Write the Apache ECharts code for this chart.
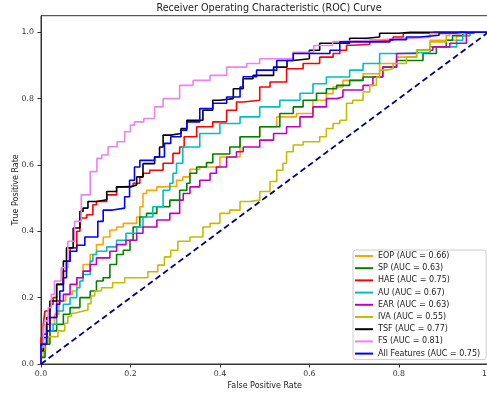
<!DOCTYPE html>
<html><head><meta charset="utf-8">
<script src="https://cdn.jsdelivr.net/npm/echarts@6/dist/echarts.min.js"></script>
<style>html,body{margin:0;padding:0;background:#fff}#c{width:487px;height:393px}</style>
</head><body><div id="c"></div>
<script>
const titleText = 'Receiver Operating Characteristic (ROC) Curve';
const seriesNames = ['EOP (AUC = 0.66)','SP (AUC = 0.63)','HAE (AUC = 0.75)','AU (AUC = 0.67)','EAR (AUC = 0.63)','IVA (AUC = 0.55)','TSF (AUC = 0.77)','FS (AUC = 0.81)','All Features (AUC = 0.75)'];
const seriesColors = ['#FFA500','#008000','#FF0000','#00BFBF','#BF00BF','#BFBF00','#000000','#EE82EE','#0000FF'];
const xTicks = [0,0.2,0.4,0.6,0.8,1.0];
const yTicks = [0,0.2,0.4,0.6,0.8,1.0];
const chancePts = [[0,0],[1,1]];

const eopPts = [[0,0],[0.005,0.02],[0.01,0.04],[0.02,0.08],[0.03,0.12],[0.04,0.15],[0.055,0.19],[0.07,0.21],[0.08,0.22],[0.094,0.26],[0.11,0.30],[0.124,0.33],[0.139,0.36],[0.154,0.383],[0.169,0.404],[0.184,0.413],[0.214,0.424],[0.221,0.443],[0.228,0.474],[0.236,0.514],[0.259,0.524],[0.273,0.534],[0.303,0.536],[0.317,0.554],[0.333,0.564],[0.355,0.587],[0.40,0.594],[0.445,0.624],[0.489,0.685],[0.527,0.715],[0.571,0.745],[0.608,0.755],[0.638,0.795],[0.653,0.815],[0.675,0.835],[0.72,0.855],[0.757,0.875],[0.795,0.906],[0.84,0.925],[0.87,0.946],[0.929,0.976],[0.959,0.99],[0.975,1],[1,1]];
const spPts = [[0,0],[0.009,0.02],[0.02,0.06],[0.035,0.10],[0.05,0.12],[0.065,0.15],[0.087,0.17],[0.11,0.20],[0.124,0.22],[0.139,0.25],[0.154,0.26],[0.169,0.30],[0.184,0.33],[0.199,0.343],[0.206,0.373],[0.221,0.413],[0.236,0.443],[0.259,0.454],[0.288,0.474],[0.31,0.494],[0.326,0.524],[0.333,0.545],[0.348,0.575],[0.37,0.594],[0.384,0.607],[0.422,0.633],[0.445,0.654],[0.489,0.685],[0.534,0.715],[0.564,0.755],[0.586,0.775],[0.616,0.795],[0.638,0.816],[0.661,0.83],[0.69,0.84],[0.72,0.855],[0.764,0.865],[0.795,0.895],[0.817,0.915],[0.854,0.915],[0.884,0.936],[0.906,0.956],[0.92,0.976],[0.943,0.99],[0.965,0.997],[0.97,1],[1,1]];
const haePts = [[0,0],[0.005,0.08],[0.009,0.12],[0.02,0.16],[0.027,0.18],[0.035,0.20],[0.05,0.24],[0.057,0.28],[0.065,0.31],[0.08,0.35],[0.087,0.40],[0.102,0.44],[0.116,0.45],[0.124,0.48],[0.147,0.49],[0.169,0.51],[0.184,0.534],[0.206,0.536],[0.221,0.545],[0.228,0.564],[0.243,0.575],[0.273,0.584],[0.295,0.605],[0.31,0.635],[0.32,0.654],[0.348,0.685],[0.384,0.715],[0.415,0.73],[0.437,0.765],[0.452,0.79],[0.489,0.795],[0.512,0.835],[0.549,0.85],[0.586,0.89],[0.623,0.906],[0.653,0.925],[0.668,0.936],[0.683,0.946],[0.697,0.961],[0.735,0.964],[0.787,0.976],[0.81,0.986],[0.87,0.997],[0.88,1],[1,1]];
const auPts = [[0,0],[0,0.01],[0.005,0.04],[0.013,0.08],[0.027,0.10],[0.035,0.12],[0.05,0.16],[0.065,0.18],[0.08,0.20],[0.087,0.23],[0.094,0.25],[0.11,0.27],[0.116,0.31],[0.124,0.33],[0.147,0.34],[0.169,0.353],[0.19,0.373],[0.214,0.394],[0.228,0.413],[0.25,0.443],[0.273,0.474],[0.288,0.524],[0.295,0.545],[0.303,0.575],[0.317,0.605],[0.355,0.654],[0.40,0.695],[0.445,0.725],[0.489,0.745],[0.534,0.775],[0.579,0.795],[0.608,0.816],[0.638,0.845],[0.69,0.865],[0.72,0.886],[0.757,0.906],[0.802,0.936],[0.87,0.94],[0.929,0.956],[0.943,0.976],[0.959,0.99],[0.97,1],[1,1]];
const earPts = [[0,0],[0.005,0.04],[0.012,0.09],[0.02,0.12],[0.035,0.14],[0.05,0.19],[0.065,0.21],[0.08,0.24],[0.094,0.26],[0.11,0.28],[0.124,0.30],[0.154,0.32],[0.169,0.34],[0.19,0.36],[0.214,0.373],[0.228,0.394],[0.259,0.413],[0.288,0.434],[0.31,0.454],[0.318,0.494],[0.333,0.514],[0.355,0.534],[0.378,0.554],[0.392,0.575],[0.415,0.594],[0.437,0.624],[0.452,0.64],[0.489,0.654],[0.52,0.675],[0.549,0.695],[0.579,0.715],[0.608,0.745],[0.638,0.775],[0.661,0.80],[0.675,0.805],[0.72,0.826],[0.742,0.84],[0.764,0.865],[0.795,0.895],[0.84,0.936],[0.876,0.946],[0.914,0.956],[0.951,0.967],[0.965,0.997],[0.97,1],[1,1]];
const ivaPts = [[0,0],[0.008,0.042],[0.016,0.063],[0.038,0.082],[0.053,0.10],[0.06,0.123],[0.068,0.143],[0.075,0.153],[0.09,0.158],[0.105,0.163],[0.112,0.182],[0.12,0.205],[0.135,0.22],[0.16,0.23],[0.187,0.245],[0.239,0.26],[0.261,0.278],[0.276,0.298],[0.29,0.323],[0.306,0.343],[0.333,0.37],[0.362,0.383],[0.378,0.413],[0.40,0.424],[0.422,0.454],[0.445,0.464],[0.467,0.49],[0.489,0.494],[0.512,0.52],[0.527,0.55],[0.541,0.584],[0.549,0.605],[0.564,0.64],[0.586,0.66],[0.623,0.67],[0.638,0.685],[0.653,0.71],[0.668,0.725],[0.683,0.735],[0.697,0.786],[0.72,0.795],[0.735,0.82],[0.75,0.84],[0.757,0.865],[0.772,0.886],[0.787,0.89],[0.817,0.906],[0.84,0.925],[0.87,0.946],[0.906,0.971],[0.914,0.99],[0.943,0.997],[0.95,1],[1,1]];
const tsfPts = [[0,0],[0.005,0.04],[0.013,0.08],[0.02,0.14],[0.035,0.19],[0.05,0.24],[0.057,0.31],[0.072,0.35],[0.087,0.41],[0.094,0.46],[0.105,0.47],[0.124,0.49],[0.147,0.495],[0.169,0.52],[0.2,0.534],[0.214,0.54],[0.228,0.564],[0.254,0.604],[0.265,0.624],[0.273,0.654],[0.29,0.69],[0.313,0.695],[0.326,0.71],[0.362,0.735],[0.384,0.765],[0.40,0.795],[0.43,0.80],[0.452,0.83],[0.474,0.86],[0.52,0.87],[0.55,0.895],[0.564,0.915],[0.6,0.92],[0.623,0.946],[0.653,0.967],[0.69,0.967],[0.728,0.982],[0.757,0.986],[0.80,0.997],[0.825,1],[1,1]];
const fsPts = [[0,0],[0.005,0.05],[0.008,0.09],[0.016,0.13],[0.023,0.17],[0.03,0.21],[0.045,0.25],[0.06,0.29],[0.075,0.37],[0.09,0.43],[0.11,0.51],[0.125,0.58],[0.136,0.62],[0.15,0.63],[0.17,0.655],[0.187,0.67],[0.2,0.70],[0.209,0.72],[0.23,0.73],[0.254,0.74],[0.273,0.775],[0.31,0.80],[0.34,0.84],[0.378,0.855],[0.415,0.87],[0.46,0.895],[0.489,0.906],[0.563,0.92],[0.61,0.94],[0.652,0.96],[0.668,0.972],[0.728,0.976],[0.80,0.98],[0.87,0.985],[0.936,0.996],[0.95,1],[1,1]];
const allPts = [[0,0],[0,0.01],[0.013,0.06],[0.02,0.10],[0.035,0.14],[0.042,0.18],[0.05,0.22],[0.057,0.26],[0.065,0.31],[0.08,0.34],[0.098,0.358],[0.127,0.383],[0.139,0.43],[0.16,0.464],[0.187,0.47],[0.198,0.504],[0.209,0.554],[0.221,0.594],[0.254,0.614],[0.276,0.624],[0.29,0.665],[0.313,0.685],[0.326,0.705],[0.355,0.73],[0.384,0.77],[0.415,0.786],[0.445,0.805],[0.452,0.835],[0.482,0.866],[0.527,0.886],[0.564,0.915],[0.646,0.936],[0.668,0.946],[0.697,0.971],[0.78,0.971],[0.817,0.978],[0.847,0.986],[0.89,0.991],[0.929,0.998],[0.94,1],[1,1]];

const curveData = [eopPts, spPts, haePts, auPts, earPts, ivaPts, tsfPts, fsPts, allPts];
const FONT = 'DejaVu Sans';
const chart = echarts.init(document.getElementById('c'), null, {renderer:'canvas'});
const series = curveData.map((d, i) => ({
  name: seriesNames[i], type: 'line', data: d, step: 'start', symbol: 'none', showSymbol: false,
  lineStyle: {color: seriesColors[i], width: 1.6}, itemStyle: {color: seriesColors[i]},
  z: 2 + i, silent: true, clip: true
}));
series.push({
  name: 'chance', type: 'line', data: chancePts, symbol: 'none', showSymbol: false,
  lineStyle: {color: '#000080', width: 1.8, type: [6, 3.5]}, z: 20, silent: true
});
chart.setOption({
  animation: false,
  backgroundColor: '#fff',
  title: {text: titleText, left: 264, top: -2, textAlign: 'center',
    textStyle: {fontFamily: FONT, fontSize: 9.6, fontWeight: 'normal', color: '#222'}},
  grid: {left: 41, right: -1.3, top: 15.7, bottom: 29, show: true, borderColor: '#333', borderWidth: 1,
    containLabel: false, outerBoundsMode: 'none'},
  legend: {
    data: seriesNames, orient: 'vertical', left: 353, top: 250,
    icon: 'rect', itemWidth: 18, itemHeight: 2, itemGap: 2.2,
    padding: [1, 6, 1, 2], backgroundColor: '#fff', borderColor: '#ccc', borderWidth: 1, borderRadius: 3,
    textStyle: {fontFamily: FONT, fontSize: 8, color: '#222', lineHeight: 10}
  },
  xAxis: {
    type: 'value', min: 0, max: 1, interval: 0.2,
    name: 'False Positive Rate', nameLocation: 'middle', nameGap: 17.5, nameMoveOverlap: false,
    nameTextStyle: {fontFamily: FONT, fontSize: 8, color: '#222'},
    axisLine: {show: true, lineStyle: {color: '#333', width: 1}},
    axisTick: {show: true, length: 3.5, lineStyle: {color: '#333'}, customValues: xTicks},
    axisLabel: {fontFamily: FONT, fontSize: 7.8, color: '#333', margin: 5.5, customValues: xTicks, formatter: v => v.toFixed(1)},
    splitLine: {show: false}
  },
  yAxis: {
    type: 'value', min: 0, max: 1.05,
    name: 'True Positive Rate', nameLocation: 'middle', nameGap: 21, nameRotate: 90, nameMoveOverlap: false,
    nameTextStyle: {fontFamily: FONT, fontSize: 8, color: '#222'},
    axisLine: {show: true, lineStyle: {color: '#333', width: 1}},
    axisTick: {show: true, length: 3.5, lineStyle: {color: '#333'}, customValues: yTicks},
    axisLabel: {fontFamily: FONT, fontSize: 7.8, color: '#333', margin: 7, customValues: yTicks, formatter: v => v.toFixed(1)},
    splitLine: {show: false}
  },
  series: series
});
</script></body></html>
